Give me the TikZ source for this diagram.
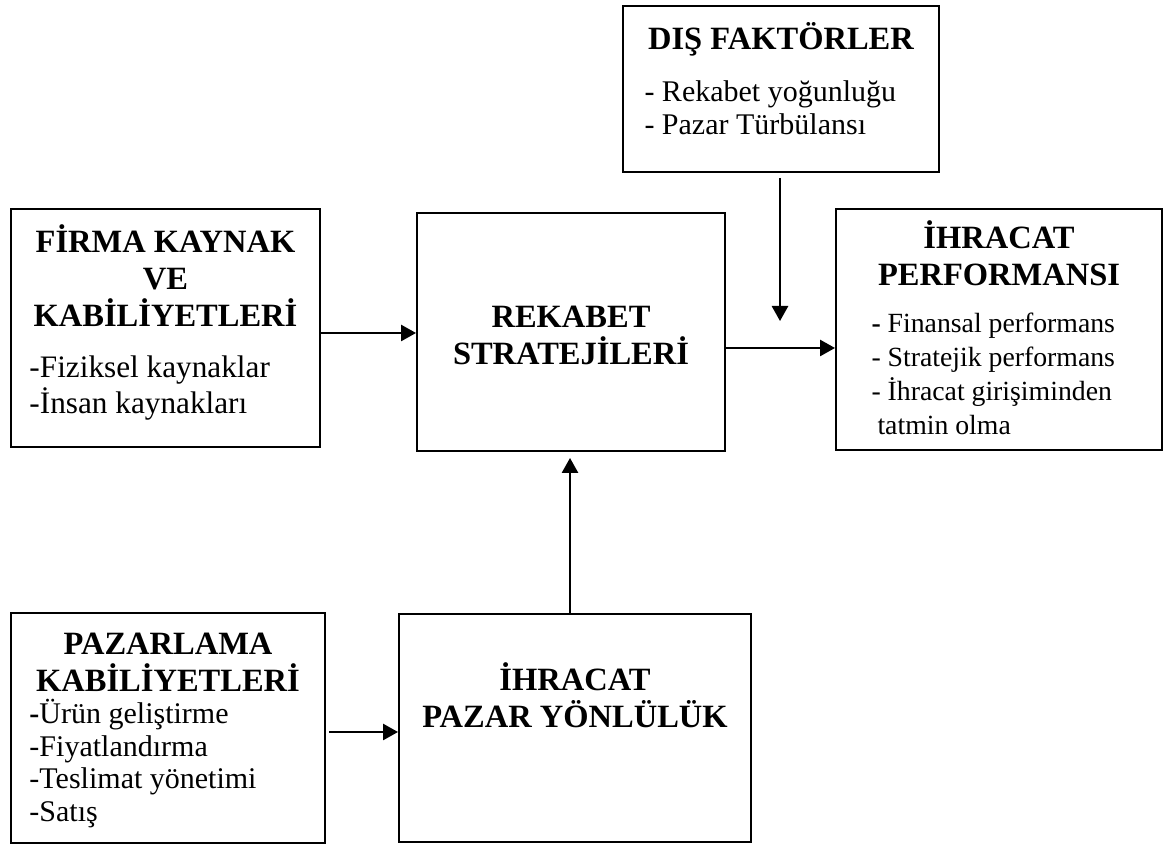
\documentclass[tikz,border=0pt]{standalone}
\usepackage{fontspec}
\setmainfont{Liberation Serif}
\usetikzlibrary{positioning,arrows.meta}
\begin{document}
\begin{tikzpicture}
[
    x=0.4pt, y=-0.4pt,
    block/.style={draw, line width=0.8pt, inner sep=0pt},
    boxtitle/.style={font=\fontsize{13}{14.8}\selectfont\bfseries, align=center, inner sep=0pt},
    itemlist/.style={align=left, inner sep=0pt},
    arrow/.style={line width=0.8pt, -{Triangle[length=6pt,width=6.5pt]}},
]
\useasboundingbox (0,0) rectangle (1167,844);

\node[block, minimum width=126.4pt, minimum height=66.4pt] (dis) at (781,89) {};
\node[block, minimum width=123.6pt, minimum height=95.2pt] (firma) at (165.5,328) {};
\node[block, minimum width=123.2pt, minimum height=95.2pt] (rekabet) at (571,332) {};
\node[block, minimum width=130.4pt, minimum height=96.4pt] (perf) at (999,329.5) {};
\node[block, minimum width=125.6pt, minimum height=92pt] (pazarlama) at (168,728) {};
\node[block, minimum width=140.8pt, minimum height=91.2pt] (pazar) at (575,728) {};

\node[boxtitle, below=6.6pt of dis.north] (distitle) {DIŞ FAKTÖRLER};
\node[itemlist, font=\fontsize{12}{13.2}\selectfont, below right=30pt and 8.8pt of dis.north west] (disitems)
    {- Rekabet yoğunluğu\\- Pazar Türbülansı};

\node[boxtitle, below=6.4pt of firma.north] (firmatitle) {FİRMA KAYNAK\\VE\\KABİLİYETLERİ};
\node[itemlist, font=\fontsize{12.5}{14.4}\selectfont, below right=58.8pt and 7.6pt of firma.north west] (firmaitems)
    {-Fiziksel kaynaklar\\-İnsan kaynakları};

\node[boxtitle, below=37.4pt of rekabet.north] (rekabettitle) {REKABET\\STRATEJİLERİ};

\node[boxtitle, below=4.8pt of perf.north] (perftitle) {İHRACAT\\PERFORMANSI};
\node[itemlist, font=\fontsize{11.1}{13.6}\selectfont, below right=41.6pt and 14.4pt of perf.north west] (perfitems)
    {\textbf{-} Finansal performans\\- Stratejik performans\\- İhracat girişiminden\\\hspace*{2.4pt}tatmin olma};

\node[boxtitle, below=8.2pt of pazarlama.north] (pazarlamatitle) {PAZARLAMA\\KABİLİYETLERİ};
\node[itemlist, font=\fontsize{12}{13}\selectfont, below right=34.8pt and 7.6pt of pazarlama.north west] (pazarlamaitems)
    {\textbf{-}Ürün geliştirme\\-Fiyatlandırma\\-Teslimat yönetimi\\-Satış};

\node[boxtitle, below=19.6pt of pazar.north] (pazartitle) {İHRACAT\\PAZAR YÖNLÜLÜK};

\coordinate (disend) at (780,321);
\draw[arrow, shorten <=2pt] (dis.south -| disend) -- (disend);
\draw[arrow] (firma.east |- 0,333) -- (rekabet.west |- 0,333);
\draw[arrow] (rekabet.east |- 0,348) -- (perf.west |- 0,348);
\draw[arrow, shorten <=1.2pt] (pazarlama.east |- 0,732) -- (pazar.west |- 0,732);
\draw[arrow, shorten >=2.4pt] (pazar.north -| 570,0) -- (rekabet.south -| 570,0);
\end{tikzpicture}
\end{document}
